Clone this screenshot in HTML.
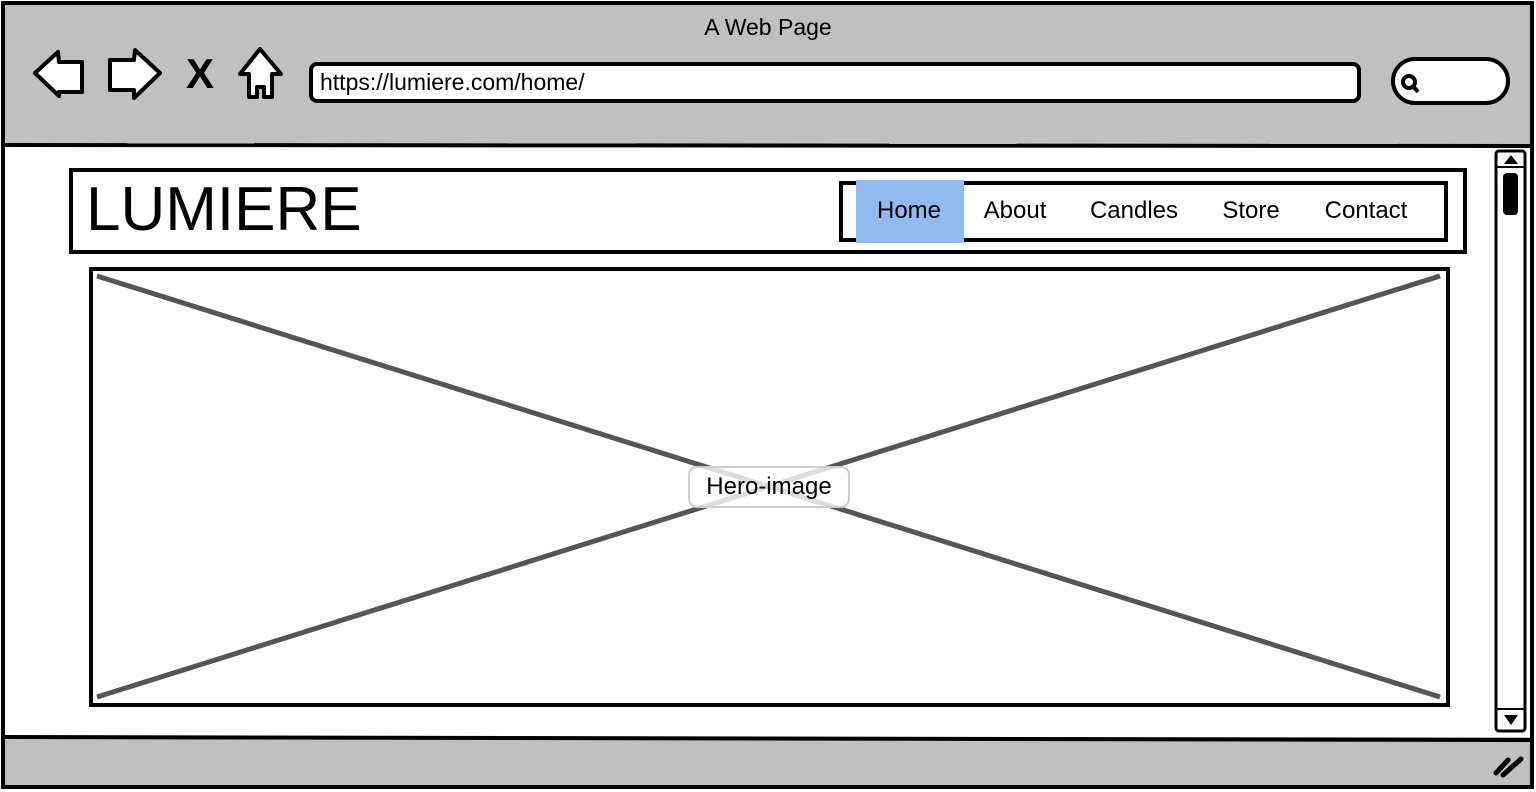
<!DOCTYPE html>
<html><head><meta charset="utf-8"><style>
html,body{margin:0;padding:0;background:#fff;width:1536px;height:792px;overflow:hidden;position:relative;}
svg{display:block;position:absolute;left:0;top:0;}
text{font-family:"Liberation Sans",sans-serif;fill:#000;}
.a{position:absolute;box-sizing:border-box;font-family:"Liberation Sans",sans-serif;color:#000;}
.nav{font-size:24px;line-height:28px;text-align:center;width:140px;top:197px;}
</style></head><body>
<svg width="1536" height="792" viewBox="0 0 1536 792" xmlns="http://www.w3.org/2000/svg">
<rect x="3" y="3" width="1529" height="784" fill="#fff" stroke="#000" stroke-width="4"/>
<path d="M5 5 H1530 V145 H5 Z" fill="#c0c0c0"/>
<path d="M5 737 H1530 V786 H5 Z" fill="#c0c0c0"/>
<line x1="4" y1="145" x2="1532" y2="146" stroke="#000" stroke-width="4"/>
<line x1="4" y1="737" x2="1532" y2="740" stroke="#000" stroke-width="4"/>
<rect x="3" y="3" width="1529" height="784" fill="none" stroke="#000" stroke-width="4"/>
<text x="768" y="35" font-size="23" text-anchor="middle">A Web Page</text>
<path d="M35 73 L58 52 L59 62 L82 62 L82 92 L59 92 L59 96 Z" fill="#fff" stroke="#000" stroke-width="4" stroke-linejoin="round"/>
<path d="M160 73 L135 50 L134 60 L110 60 L110 90 L134 90 L134 98 Z" fill="#fff" stroke="#000" stroke-width="4" stroke-linejoin="round"/>
<text x="186" y="88" font-size="42" font-weight="bold">X</text>
<path d="M260 49 L240 74 L249 74 L249 97 L257 97 L257 87 L264 87 L264 97 L272 97 L272 74 L281 74 Z" fill="#fff" stroke="#000" stroke-width="4" stroke-linejoin="round"/>
<rect x="311" y="64" width="1048" height="37" rx="6" fill="#fff" stroke="#000" stroke-width="4"/>
<text x="320" y="90" font-size="23">https://lumiere.com/home/</text>
<rect x="1393" y="59" width="115" height="44" rx="22" fill="#fff" stroke="#000" stroke-width="4"/>
<circle cx="1409" cy="82" r="6" fill="none" stroke="#000" stroke-width="4"/>
<line x1="1413" y1="86" x2="1418" y2="92" stroke="#000" stroke-width="4"/>
<rect x="1496" y="151" width="29" height="580" rx="3" fill="#fff" stroke="#000" stroke-width="3"/>
<line x1="1496" y1="167" x2="1525" y2="167" stroke="#000" stroke-width="2"/>
<path d="M1504 164 L1511 155 L1518 164 Z" fill="#000"/>
<rect x="1503" y="173" width="15" height="42" rx="4" fill="#000"/>
<line x1="1496" y1="709" x2="1525" y2="709" stroke="#000" stroke-width="2"/>
<path d="M1504 715 L1518 715 L1511 725 Z" fill="#000"/>
<line x1="1496" y1="773" x2="1508" y2="760" stroke="#000" stroke-width="5" stroke-linecap="round"/>
<line x1="1503" y1="775" x2="1521" y2="759" stroke="#000" stroke-width="5" stroke-linecap="round"/>
</svg>
<div class="a" style="left:69px;top:168px;width:1398px;height:86px;border:4px solid #000;background:#fff;"></div>
<div class="a" style="left:86px;top:172px;font-size:62px;line-height:76px;">LUMIERE</div>
<div class="a" style="left:839px;top:181px;width:609px;height:61px;border:4px solid #000;background:#fff;"></div>
<div class="a" style="left:856px;top:180px;width:108px;height:63px;background:#92b9f0;"></div>
<div class="a nav" style="left:839px;">Home</div>
<div class="a nav" style="left:945px;">About</div>
<div class="a nav" style="left:1064px;">Candles</div>
<div class="a nav" style="left:1181px;">Store</div>
<div class="a nav" style="left:1296px;">Contact</div>
<div class="a" style="left:89px;top:267px;width:1361px;height:440px;border:4px solid #000;background:#fff;"></div>
<svg width="1536" height="792" viewBox="0 0 1536 792" xmlns="http://www.w3.org/2000/svg" style="pointer-events:none;">
<line x1="97" y1="276" x2="1440" y2="697" stroke="#555" stroke-width="5"/>
<line x1="1440" y1="276" x2="97" y2="697" stroke="#555" stroke-width="5"/>
<rect x="689" y="467" width="160" height="40" rx="8" fill="#fff" fill-opacity="0.8" stroke="#ccc" stroke-width="2"/>
<text x="769" y="494" font-size="24" text-anchor="middle">Hero-image</text>
</svg>
</body></html>
